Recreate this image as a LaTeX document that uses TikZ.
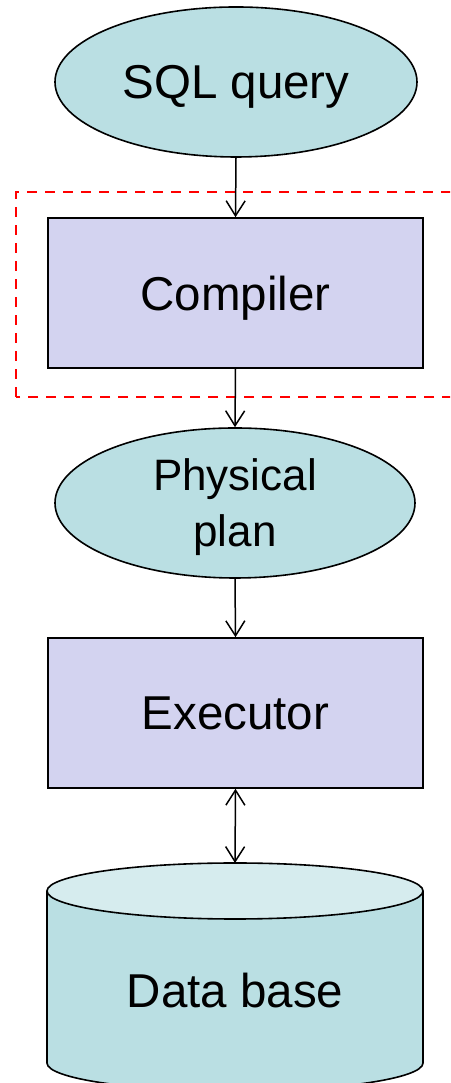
\documentclass[tikz,border=0pt]{standalone}
\usepackage{fontspec}
\setmainfont{Liberation Sans}
\usetikzlibrary{shapes.geometric,arrows.meta}
\definecolor{termfill}{RGB}{186,223,227}
\definecolor{procfill}{RGB}{211,211,240}
\definecolor{dbtopfill}{RGB}{214,236,238}
\tikzset{
  openbarb/.tip={Straight Barb[length=15pt,width=19pt,line width=1.5pt]},
  term/.style={ellipse, draw=black, line width=1.6pt, fill=termfill, inner sep=0pt,
    font=\fontsize{47.5}{57}\selectfont},
  proc/.style={rectangle, draw=black, line width=1.6pt, fill=procfill, inner sep=0pt,
    minimum width=375pt, minimum height=150pt, font=\fontsize{47.5}{57}\selectfont},
  flow/.style={line width=1.5pt, -{openbarb}},
  bothflow/.style={line width=1.5pt, {openbarb}-{openbarb}},
  stage/.style={draw=red, line width=2.8pt, dash pattern=on 10pt off 8pt}
}
\begin{document}
\begin{tikzpicture}[x=1pt,y=1pt]
\useasboundingbox (0,0) rectangle (450,1083);
\clip (0,0) rectangle (450,1083);

% compiler stage boundary
\draw[stage] (16,686) rectangle (470,891);

% flow nodes
\node[term, minimum width=362pt, minimum height=150pt, text depth=0pt] (sql) at (236,1001) {SQL query};
\node[proc, text depth=0pt] (comp) at (235.5,790) {Compiler};
\node[term, minimum width=360pt, minimum height=150pt, align=center, text depth=0pt,
  font=\fontsize{44}{56}\selectfont] (plan) at (235,580) {Physical\\plan};
\node[proc] (exec) at (235.5,370) {Executor};

% database cylinder
\fill[termfill] (47,192) -- (47,20) arc[start angle=180, end angle=360, x radius=188, y radius=28]
  -- (423,192) -- cycle;
\draw[line width=1.6pt] (47,192) -- (47,20) arc[start angle=180, end angle=360, x radius=188, y radius=28]
  -- (423,192);
\draw[line width=1.6pt, fill=dbtopfill] (235,192) ellipse[x radius=188, y radius=28];
\coordinate (dbtop) at (235,220);
\node[font=\fontsize{47.5}{57}\selectfont] (db) at (235,92) {Data base};

% connectors
\draw[flow] (sql.south) -- (comp.north);
\draw[flow] (comp.south) -- (plan.north);
\draw[flow] (plan.south) -- (exec.north);
\draw[bothflow] (exec.south) -- (dbtop);
\end{tikzpicture}
\end{document}
